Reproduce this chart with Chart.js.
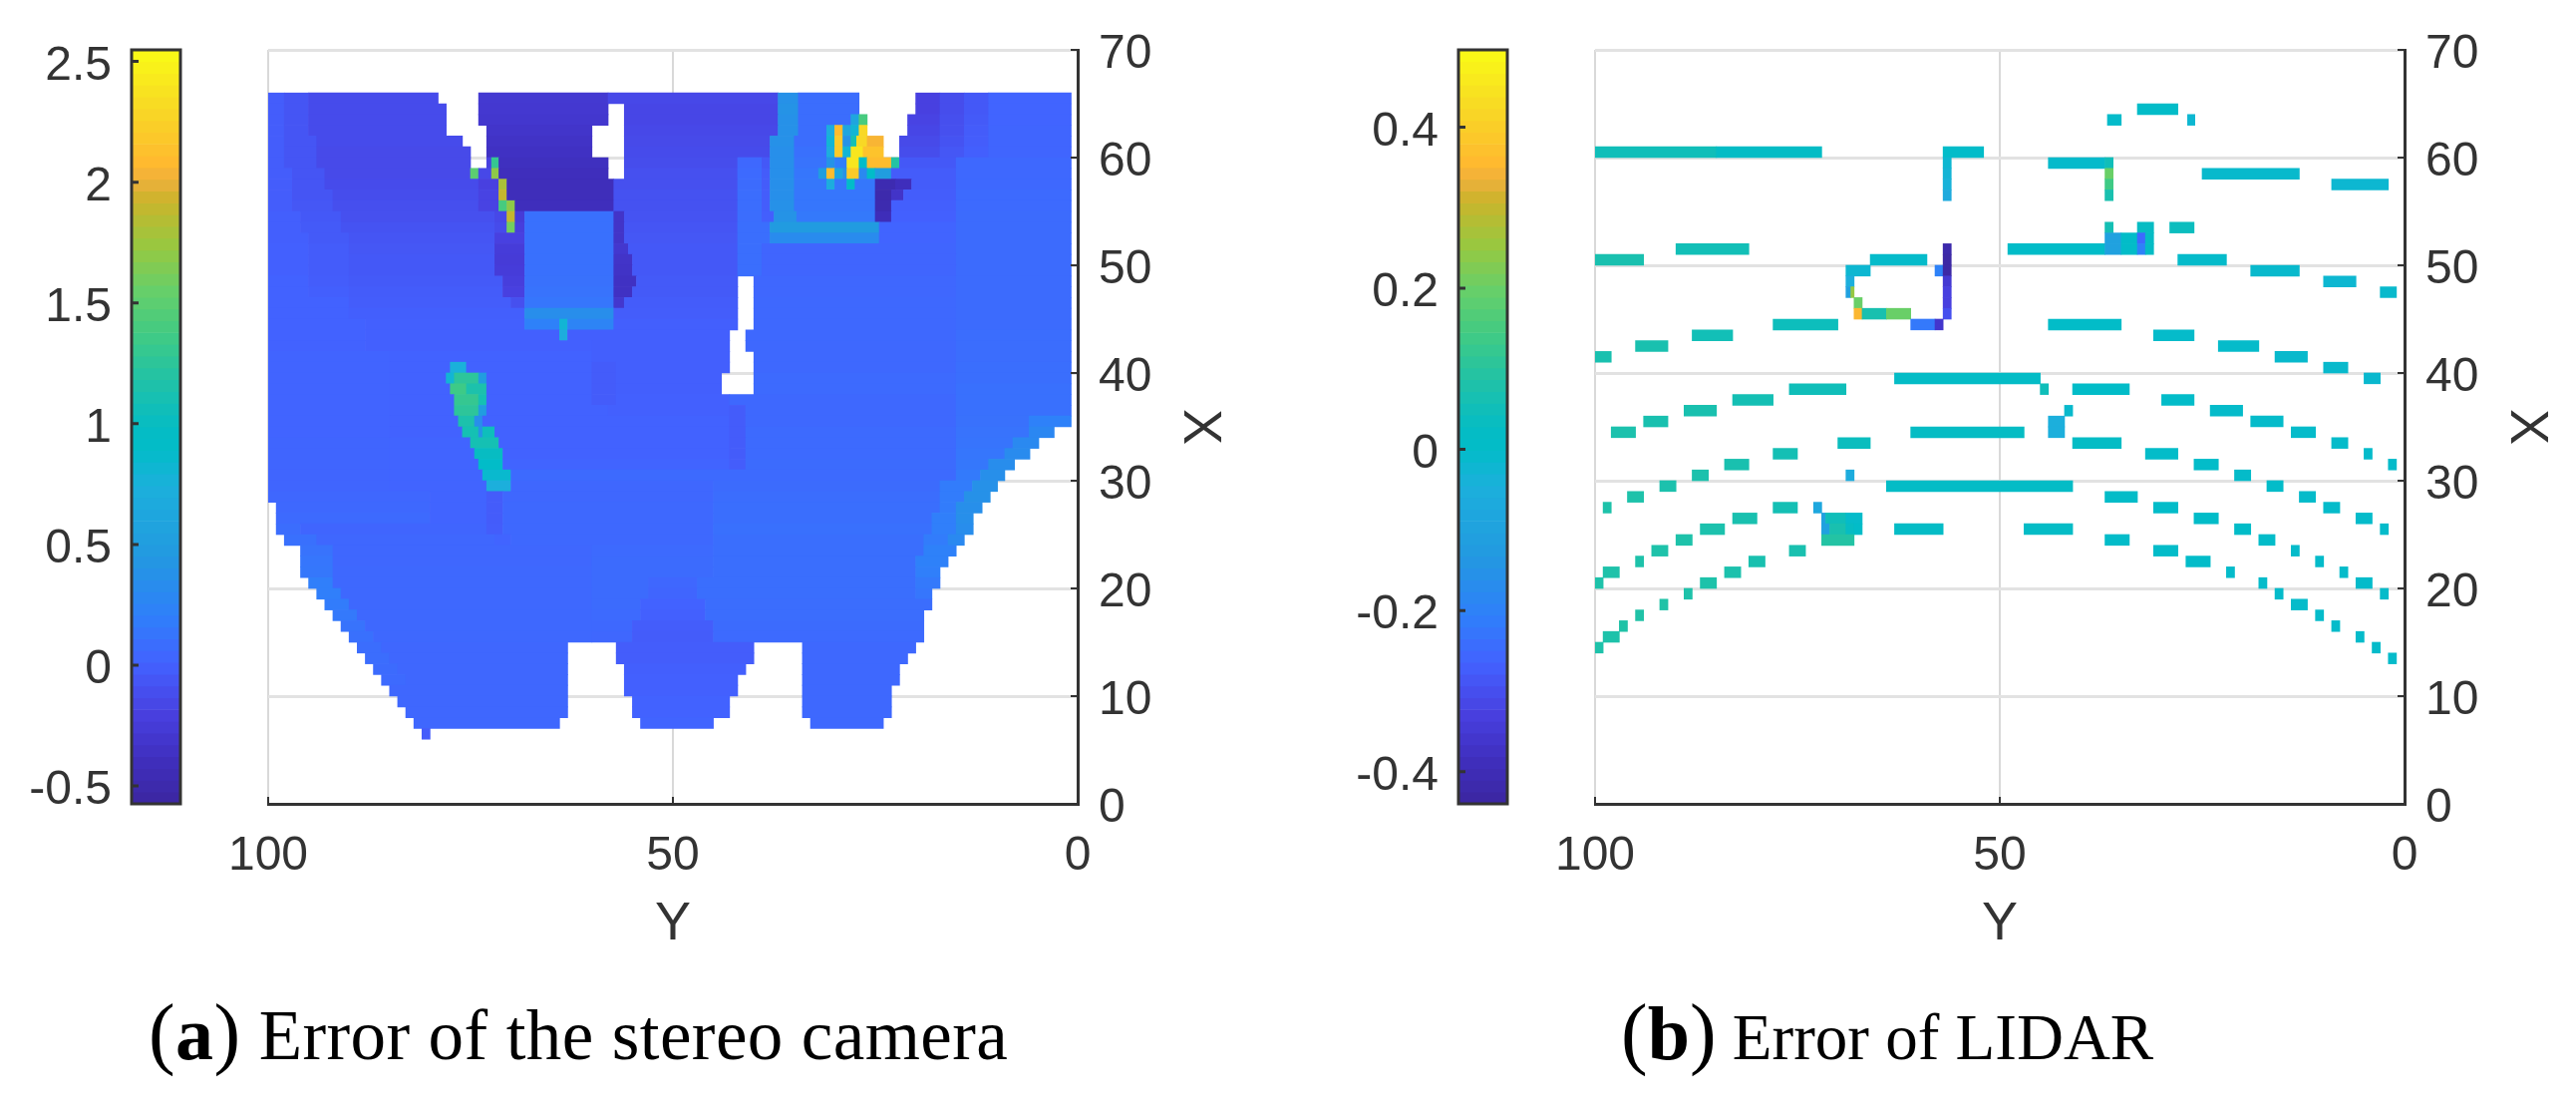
<!DOCTYPE html>
<html>
<head>
<meta charset="utf-8">
<title>Error maps</title>
<script src="https://cdn.jsdelivr.net/npm/chart.js@4/dist/chart.umd.min.js"></script>
<style>
  html, body { margin: 0; background: #fff; }
  body { position: relative; width: 2584px; height: 1118px; overflow: hidden; }
  canvas { position: absolute; left: 0; top: 0; filter: blur(0.7px); }
  .caption { position: absolute; top: 990px; font-family: "Liberation Serif", serif; color: #000; white-space: nowrap; }
  .caption i { font-style: normal; font-size: 80px; }
  .caption b { font-weight: bold; font-size: 76px; }
</style>
</head>
<body>
<canvas id="cameraBar" width="2584" height="1118"></canvas>
<canvas id="cameraMap" width="2584" height="1118"></canvas>
<canvas id="lidarBar" width="2584" height="1118"></canvas>
<canvas id="lidarMap" width="2584" height="1118"></canvas>
<div class="caption" style="left:149px;font-size:71px;letter-spacing:0.4px"><i>(</i><b>a</b><i>)</i> Error of the stereo camera</div>
<div class="caption" style="left:1626px;font-size:65px"><i>(</i><b>b</b><i>)</i> Error of LIDAR</div>

<script>
const xTicks = [100, 50, 0];
const yTicks = [0, 10, 20, 30, 40, 50, 60, 70];
const cameraBarTicks = [-0.5, 0, 0.5, 1, 1.5, 2, 2.5];
const lidarBarTicks = [-0.4, -0.2, 0, 0.2, 0.4];
const cameraRange = [-0.574, 2.548];
const lidarRange = [-0.44, 0.496];

// colormap, bottom to top
const colorStops = [
  [0, "#3b26a0"], [0.06, "#3f2fbe"], [0.12, "#4840e0"], [0.185, "#4361ff"],
  [0.25, "#2f80fa"], [0.33, "#2299e0"], [0.42, "#1cb0dc"], [0.47, "#02bcc8"], [0.5, "#05bcc4"], [0.56, "#20c2a8"],
  [0.62, "#3fca85"], [0.68, "#66cf6a"], [0.74, "#98c840"], [0.8, "#cbb42b"], [0.827, "#eeb03c"],
  [0.85, "#ffb92f"], [0.92, "#f8d825"], [1, "#f9fb15"]
];

// each row is X, runs are flat triples: Y from, Y to, error
const cameraRows = [65,64,63,62,61,60,59,58,57,56,55,54,53,52,51,50,49,48,47,46,45,44,43,42,41,40,39,38,37,36,35,34,33,32,31,30,29,28,27,26,25,24,23,22,21,20,19,18,17,16,15,14,13,12,11,10,9,8,7,6];
const cameraRuns = [
  [100,98,-.02, 98,95,-.07, 95,79,-.13, 74,58,-.28, 58,37,-.15, 37,34.5,.38, 34.5,27,.08, 20,17,-.2, 17,14,-.12, 14,11,-.05, 11,.8,.02],
  [100,98,-.02, 98,95,-.07, 95,78,-.13, 74,58,-.29, 56,37,-.16, 37,34.5,.4, 34.5,27,.08, 20,17,-.2, 17,14,-.12, 14,11,-.05, 11,.8,.02],
  [100,98,-.02, 98,95,-.07, 95,78,-.13, 74,58,-.3, 56,37,-.16, 37,34.5,.38, 34.5,28,.08, 28,27,.6, 27,26,1.4, 21,17,-.18, 17,14,-.11, 14,11,-.04, 11,.8,.02],
  [100,98,-.02, 98,95,-.07, 95,78,-.13, 73,60,-.32, 56,37,-.15, 37,34.5,.38, 34.5,31,.08, 31,30,.7, 30,29,2.1, 29,28,.6, 28,27,.8, 27,26,2.3, 21,17,-.16, 17,14,-.1, 14,11,-.03, 11,.8,.03],
  [100,98,-.02, 98,94,-.07, 94,76,-.13, 73,60,-.34, 56,38,-.14, 38,35,.38, 35,31,.08, 31,30,.8, 30,29,2.2, 29,28,.4, 28,27.3,1.1, 27.3,26,2.3, 26,24,2.05, 22,17,-.14, 17,14,-.08, 14,11,-.02, 11,.8,.03],
  [100,98,-.02, 98,94,-.07, 94,75,-.14, 73,60,-.36, 56,38,-.13, 38,35,.36, 35,31,.1, 31,30,.7, 30,29,2.2, 29,28,.8, 28,26.5,2.4, 26.5,24,2.15, 22,17,-.12, 17,14,-.06, 14,11,-.01, 11,.8,.03],
  [100,98,-.02, 98,94,-.07, 94,75,-.14, 73,72.4,-.2, 72.4,71.5,1.3, 71.5,58,-.38, 56,42,-.12, 42,39,.05, 39,38,-.05, 38,35,.36, 35,31,.12, 31,30,.4, 30,28.5,.2, 28.5,27,2.4, 27,26,.9, 26,23,2.1, 23,22,1.2, 22,15,-.05, 15,.8,.05],
  [100,97,-.02, 97,93,-.07, 93,75,-.14, 75,74,1.5, 74,72.4,-.15, 72.4,71.5,1.7, 71.5,58,-.4, 56,42,-.1, 42,39,.06, 39,38,-.03, 38,35,.36, 35,32,.14, 32,31,.5, 31,30,2.1, 30,29,.6, 29,28.5,.4, 28.5,27,2.2, 27,26,.3, 26,25,.9, 25,23,.5, 23,15,-.03, 15,.8,.05],
  [100,97,-.02, 97,93,-.07, 93,74,-.13, 74,71.5,-.2, 71.5,70.5,1.8, 70.5,57.3,-.41, 57.3,42,-.1, 42,39,.07, 39,38,-.03, 38,35,.36, 35,31,.15, 31,30,.7, 30,28.5,.15, 28.5,27.5,.9, 27.5,25,.15, 25,22.5,-.47, 22.5,20.5,-.4, 20.5,15,-.03, 15,.8,.05],
  [100,97,-.02, 97,92,-.07, 92,74,-.12, 74,71.5,-.18, 71.5,70.5,1.9, 70.5,57.3,-.41, 57.3,42,-.09, 42,39,.08, 39,38,-.02, 38,35,.36, 35,25,.14, 25,23,-.5, 23,21.5,-.33, 21.5,15,-.02, 15,.8,.06],
  [100,97,-.02, 97,92,-.06, 92,74,-.11, 74,71.5,-.18, 71.5,70.5,1.4, 70.5,69.5,1.7, 69.5,57.3,-.4, 57.3,42,-.09, 42,39,.08, 39,38,-.02, 38,35,.38, 35,25,.14, 25,23,-.48, 23,15,-.01, 15,.8,.06],
  [100,96,-.01, 96,91,-.05, 91,72,-.1, 72,70.5,-.15, 70.5,69.5,1.9, 69.5,68.3,-.25, 68.3,57.3,.1, 57.3,56,-.33, 56,42,-.08, 42,39,.08, 39,37.5,-.01, 37.5,34.7,.4, 34.7,25,.16, 25,23,-.42, 23,15,0, 15,.8,.07],
  [100,96,-.01, 96,91,-.04, 91,72,-.08, 72,70.5,-.13, 70.5,69.5,1.6, 69.5,68.3,-.22, 68.3,57.3,.1, 57.3,56,-.33, 56,42,-.07, 42,38,.09, 38,24.5,.48, 24.5,15,.02, 15,.8,.07],
  [100,95,-.01, 95,90,-.04, 90,72,-.07, 72,68.3,-.2, 68.3,57.3,.1, 57.3,56,-.33, 56,42,-.06, 42,38,.09, 38,24.5,.32, 24.5,15,.02, 15,.8,.07],
  [100,95,0, 95,90,-.03, 90,72,-.06, 72,68.3,-.24, 68.3,57.3,.1, 57.3,55.5,-.3, 55.5,42,-.05, 42,39,.09, 39,15,.03, 15,.8,.07],
  [100,95,0, 95,90,-.03, 90,72,-.05, 72,68.3,-.25, 68.3,57.3,.1, 57.3,55,-.33, 55,42,-.05, 42,39,.09, 39,15,.03, 15,.8,.07],
  [100,95,0, 95,90,-.03, 90,72,-.05, 72,68.3,-.24, 68.3,57.3,.1, 57.3,55,-.34, 55,42,-.05, 42,39,.09, 39,15,.03, 15,.8,.07],
  [100,95,.01, 95,90,-.02, 90,71,-.04, 71,68.3,-.22, 68.3,57.3,.11, 57.3,54.5,-.36, 54.5,42,-.04, 40,15,.04, 15,.8,.07],
  [100,95,.01, 95,90,-.01, 90,71,-.03, 71,68.3,-.2, 68.3,57.3,.12, 57.3,55,-.36, 55,42,-.04, 40,15,.04, 15,.8,.07],
  [100,90,.01, 90,70,-.02, 70,68.3,-.1, 68.3,57.3,.14, 57.3,56,-.3, 56,42,-.03, 40,15,.05, 15,.8,.07],
  [100,90,.01, 90,68.3,-.01, 68.3,57.3,.35, 57.3,42,-.02, 40,15,.05, 15,.8,.07],
  [100,88,.01, 88,68.3,0, 68.3,64,.22, 64,63,.8, 63,57.3,.25, 57.3,42,-.01, 40,15,.05, 15,.8,.07],
  [100,88,.01, 88,64,0, 64,63,.7, 63,43,-.01, 41,15,.05, 15,.8,.08],
  [100,88,.01, 88,60,0, 60,43,-.01, 41,15,.05, 15,.8,.08],
  [100,85,.02, 85,60,.01, 60,43,-.01, 40,15,.05, 15,.8,.08],
  [100,85,.02, 85,77.5,.01, 77.5,75.5,.75, 75.5,60,.01, 60,57,-.03, 57,43,-.01, 40,15,.05, 15,.8,.09],
  [100,85,.02, 85,78,.01, 78,77,.8, 77,74,1.25, 74,73,.5, 73,60,.01, 60,57,-.03, 57,44,-.01, 40,15,.06, 15,.8,.09],
  [100,85,.02, 85,77.5,.01, 77.5,75.5,1.35, 75.5,73,1.15, 73,60,.01, 60,57,-.03, 57,44,-.01, 40,15,.06, 15,.8,.1],
  [100,85,.02, 85,77,.01, 77,74,1.3, 74,73,1.1, 73,60,.01, 60,57,-.03, 57,43,0, 43,15,.05, 15,.8,.1],
  [100,85,.02, 85,77,.01, 77,74,1.25, 74,73,.5, 73,58,.01, 58,43,0, 43,41,-.03, 41,15,.05, 15,.8,.1],
  [100,85,.02, 85,76.5,.01, 76.5,74.5,1.15, 74.5,73.5,.35, 73.5,43,.01, 43,41,-.03, 41,15,.05, 15,6,.11, 6,.8,.22],
  [100,85,.02, 85,76,.01, 76,74,1.1, 74,73.5,.4, 73.5,72,1.05, 72,43,.01, 43,41,-.03, 41,15,.06, 15,6,.12, 6,2.9,.28],
  [100,85,.03, 85,75,.02, 75,71.5,1.1, 71.5,43,.01, 43,41,-.03, 41,15,.06, 15,8,.13, 8,4.8,.3],
  [100,85,.03, 85,74.5,.02, 74.5,71,1.0, 71,43,.01, 43,41,-.03, 41,15,.06, 15,9,.14, 9,5.9,.32],
  [100,85,.03, 85,74,.02, 74,71,.9, 71,43,.02, 43,41,-.02, 41,15,.07, 15,11,.15, 11,7.8,.34],
  [100,85,.03, 85,73.5,.02, 73.5,70,.85, 70,15,.06, 15,12,.17, 12,9,.36],
  [100,85,.03, 85,73,.02, 73,70,.72, 70,45,.04, 45,17,.07, 17,13,.18, 13,9.9,.38],
  [100,80,.04, 80,73,.02, 73,71,-.03, 71,45,.04, 45,17,.08, 17,14,.18, 14,10.8,.38],
  [99,80,.05, 80,73,.02, 73,71,-.03, 71,45,.05, 45,17,.09, 17,15,.18, 15,11.8,.36],
  [99,80,.06, 80,73,.02, 73,71,-.03, 71,45,.05, 45,18,.09, 18,15,.2, 15,12.9,.36],
  [99,96,.08, 96,73,.03, 73,71,-.02, 71,45,.05, 45,18,.1, 18,15,.2, 15,12.9,.34],
  [98,94,.1, 94,72,.04, 72,70,.02, 70,45,.05, 45,19,.09, 19,16,.18, 16,14,.3],
  [96,92,.12, 92,60,.04, 60,45,.06, 45,19,.09, 19,15,.22],
  [96,92,.14, 92,60,.04, 60,45,.07, 45,20,.09, 20,16,.22],
  [96,92,.15, 92,60,.05, 60,45,.07, 45,20,.09, 20,17,.2],
  [95,92,.2, 92,60,.05, 60,53,.07, 53,47,.04, 47,20,.09, 20,17,.16],
  [94,91,.2, 91,60,.05, 60,53,.07, 53,47,.03, 47,20,.09, 20,18,.14],
  [93,90,.18, 90,60,.05, 60,54,.07, 54,46,.01, 46,18,.08],
  [92,89,.16, 89,60,.05, 60,54,.06, 54,46,0, 46,19,.08],
  [91,88,.12, 88,60,.05, 60,55,.05, 55,45,-.02, 45,19,.07],
  [90,87,.1, 87,60,.05, 60,55,.04, 55,45,-.03, 45,19,.06],
  [89,86,.08, 86,63,.04, 57,40,-.02, 34,20,.05],
  [88,85,.08, 85,63,.04, 57,40,-.02, 34,21,.05],
  [87,84,.07, 84,63,.04, 56,41,-.01, 34,22,.05],
  [86,83,.06, 83,63,.04, 56,42,0, 34,22,.05],
  [85,63,.04, 56,42,0, 34,23,.05],
  [84,63,.04, 55,43,.01, 34,23,.05],
  [83,63,.04, 55,43,.01, 34,23,.05],
  [82,64,.04, 54,45,.02, 33,24,.05],
  [81,80,-.02]
];

const lidarRows = [64,63,60,59,58,57,56,53,52,51,50,49,48,47,46,45,44,43,42,41,40,39,38,37,36,35,34,33,32,31,30,29,28,27,26,25,24,23,22,21,20,19,18,17,16,15,14,13];
const lidarRuns = [
  [33,28,0],
  [36.7,35,-.005, 26.8,25.9,-.02],
  [100,85,.05, 85,72,.02, 57,52,-.002],
  [57,56,-.02, 44,37,-.008, 37,36,.05],
  [57,56,-.03, 37,36,.2, 25,13,-.01],
  [57,56,-.04, 37,36,.14, 9,2,-.02],
  [57,56,-.07, 37,36,.07],
  [37,36,.06, 33,31,.03, 29,26,.04],
  [37,35,-.1, 35,33,0, 33,32,-.25, 32,31,.02],
  [90,81,.055, 57,56,-.42, 49,37,0, 37,35,-.1, 35,33,0, 33,32,-.2, 32,31,.02],
  [100,94,.07, 66,59,-.005, 57,56,-.43, 28,22,-.005],
  [69,66,-.02, 58,57,-.2, 57,56,-.43, 19,13,-.01],
  [69,68,-.05, 57,56,-.35, 10,6,-.02],
  [69,68.4,-.1, 68.4,68,.25, 57,56,-.33, 3,1,-.01],
  [68,67,.2, 57,56,-.33],
  [68,67,.35, 67,64,.07, 64,61,.2, 57,56,-.3],
  [78,70,.045, 61,58,-.22, 58,57,-.36, 44,35,0],
  [88,83,.055, 31,26,-.005],
  [95,91,.07, 23,18,-.005],
  [100,98,.07, 16,12,-.01],
  [10,7,-.01],
  [63,45,.015, 5,3,-.015],
  [76,69,.05, 45,44,.05, 41,34,0],
  [83,78,.06, 30,26,-.002],
  [89,85,.07, 42,41,-.01, 24,20,-.005],
  [94,91,.07, 44,42,-.05, 19,15,-.005],
  [98,95,.075, 61,47,.025, 44,42,-.05, 14,11,-.005],
  [70,66,.04, 41,35,.02, 9,7,-.005],
  [78,75,.06, 32,28,-.002, 5,4,-.005],
  [84,81,.07, 26,23,-.002, 2,1,-.005],
  [88,86,.075, 69,68,-.06, 21,19,-.003],
  [92,90,.075, 64,41,.015, 17,15,-.002],
  [96,94,.08, 37,33,0, 13,11,-.005],
  [99,98,.08, 78,75,.06, 73,72,-.08, 31,28,-.002, 10,8,-.005],
  [83,80,.07, 72,71.5,-.1, 71.5,69,.05, 69,67,-.005, 26,23,0, 6,4,-.005],
  [87,84,.075, 72,71,-.1, 71,69,.07, 69,68,.03, 68,67,0, 63,57,.015, 47,41,.015, 21,19,0, 3,2,-.005],
  [90,88,.08, 72,68,.09, 37,34,-.002, 18,16,-.002],
  [93,91,.08, 76,74,.07, 31,28,-.002, 14,13,-.005],
  [95,94,.08, 81,79,.07, 27,24,-.002, 11,10,-.005],
  [99,97,.08, 84,82,.075, 22,21,-.005, 8,7,-.005],
  [100,99,.08, 87,85,.08, 18,17,-.005, 6,4,-.005],
  [89,88,.08, 16,15,-.005, 3,2,-.005],
  [92,91,.085, 14,12,-.005],
  [95,94,.085, 11,10,-.005],
  [97,96,.085, 9,8,-.005],
  [99,97,.08, 6,5,-.005],
  [100,99,.08, 4,3,-.005],
  [2,1,-.005]
];

const inkColor = "#333333";
const gridColor = "#e2e2e2";
const tickFont = { family: "'Liberation Sans', Arial, sans-serif", size: 48 };

function hexToRgb(hex) {
  return [1, 3, 5].map(i => parseInt(hex.slice(i, i + 2), 16));
}

function colorAt(t) {
  t = Math.min(1, Math.max(0, t));
  let i = 0;
  while (i < colorStops.length - 2 && colorStops[i + 1][0] < t) i++;
  const [t0, c0] = colorStops[i];
  const [t1, c1] = colorStops[i + 1];
  const f = Math.min(1, Math.max(0, (t - t0) / (t1 - t0)));
  const a = hexToRgb(c0), b = hexToRgb(c1);
  return `rgb(${a.map((v, k) => Math.round(v + (b[k] - v) * f)).join(",")})`;
}

function buildCells(rows, runs) {
  const cells = [];
  rows.forEach((row, r) => {
    for (let i = 0; i < runs[r].length; i += 3) {
      cells.push({ x: [runs[r][i], runs[r][i + 1]], y: row + 0.5, v: runs[r][i + 2] });
    }
  });
  return cells;
}

// ticks point inwards in the original, so chart.js's own ones are off
const inwardTicks = {
  id: "inwardTicks",
  afterDraw(chart, args, opts) {
    const { ctx, chartArea: a, scales } = chart;
    ctx.save();
    ctx.strokeStyle = inkColor;
    ctx.lineWidth = 2;
    ctx.beginPath();
    if (opts.frame) {
      ctx.lineWidth = 3;
      ctx.strokeRect(a.left, a.top, a.right - a.left, a.bottom - a.top);
      scales.y.ticks.forEach(t => {
        const py = scales.y.getPixelForValue(t.value);
        ctx.moveTo(a.left, py);
        ctx.lineTo(a.left + 7, py);
      });
    } else {
      scales.y.ticks.forEach(t => {
        const py = scales.y.getPixelForValue(t.value);
        ctx.moveTo(a.right, py);
        ctx.lineTo(a.right - 7, py);
      });
      scales.x.ticks.forEach(t => {
        const px = scales.x.getPixelForValue(t.value);
        ctx.moveTo(px, a.bottom);
        ctx.lineTo(px, a.bottom - 7);
      });
    }
    ctx.stroke();
    ctx.restore();
  }
};

function drawMap(id, rows, runs, range, left, right) {
  const cells = buildCells(rows, runs);
  const axisW = 158, axisH = 158;
  new Chart(document.getElementById(id), {
    type: "bar",
    data: {
      datasets: [{
        data: cells,
        backgroundColor: cells.map(c => colorAt((c.v - range[0]) / (range[1] - range[0]))),
        borderWidth: 0,
        barThickness: 10.8
      }]
    },
    options: {
      indexAxis: "y",
      responsive: false,
      animation: false,
      layout: { padding: { left: left, right: 2584 - right - axisW, top: 50, bottom: 1118 - 806 - axisH } },
      plugins: { legend: { display: false }, tooltip: { enabled: false }, inwardTicks: {} },
      scales: {
        x: {
          type: "linear", reverse: true, min: 0, max: 100,
          afterFit: s => { s.height = axisH; },
          afterBuildTicks: s => { s.ticks = xTicks.map(v => ({ value: v })); },
          grid: { color: "#d9d9d9", lineWidth: 2, drawTicks: false },
          border: { color: inkColor, width: 3 },
          ticks: { font: tickFont, color: inkColor, padding: 24, maxRotation: 0 },
          title: { display: true, text: "Y", font: { family: tickFont.family, size: 54 }, color: inkColor }
        },
        y: {
          type: "linear", position: "right", min: 0, max: 70, offset: false,
          afterFit: s => { s.width = axisW; },
          afterBuildTicks: s => { s.ticks = yTicks.map(v => ({ value: v })); },
          grid: { color: gridColor, lineWidth: 3, drawTicks: false, offset: false },
          border: { color: inkColor, width: 3 },
          ticks: { font: tickFont, color: inkColor, padding: 21, labelOffset: 5 },
          title: { display: true, text: "X", font: { family: tickFont.family, size: 54 }, color: inkColor }
        }
      }
    },
    plugins: [inwardTicks]
  });
}

function drawColorbar(id, tickValues, range, left, right) {
  const axisW = 120;
  const bands = [];
  for (let i = 0; i < 64; i++) {
    const lo = range[0] + (range[1] - range[0]) * i / 64;
    const hi = range[0] + (range[1] - range[0]) * (i + 1) / 64;
    bands.push({ x: 0.5, y: [lo, hi], t: (i + 0.5) / 64 });
  }
  new Chart(document.getElementById(id), {
    type: "bar",
    data: {
      datasets: [{
        data: bands,
        backgroundColor: bands.map(b => colorAt(b.t)),
        borderWidth: 0,
        barThickness: right - left
      }]
    },
    options: {
      responsive: false,
      animation: false,
      layout: { padding: { left: left - axisW, right: 2584 - right, top: 50, bottom: 312 } },
      plugins: { legend: { display: false }, tooltip: { enabled: false }, inwardTicks: { frame: true } },
      scales: {
        x: { type: "linear", min: 0, max: 1, offset: false, display: false },
        y: {
          type: "linear", min: range[0], max: range[1],
          afterFit: s => { s.width = axisW; },
          afterBuildTicks: s => { s.ticks = tickValues.map(v => ({ value: v })); },
          grid: { display: false, drawTicks: false },
          border: { display: false },
          ticks: { font: tickFont, color: inkColor, padding: 20, labelOffset: 5, callback: v => String(v) }
        }
      }
    },
    plugins: [inwardTicks]
  });
}

drawColorbar("cameraBar", cameraBarTicks, cameraRange, 132, 181);
drawMap("cameraMap", cameraRows, cameraRuns, cameraRange, 269, 1081);
drawColorbar("lidarBar", lidarBarTicks, lidarRange, 1463, 1512);
drawMap("lidarMap", lidarRows, lidarRuns, lidarRange, 1600, 2412);
</script>
</body>
</html>
